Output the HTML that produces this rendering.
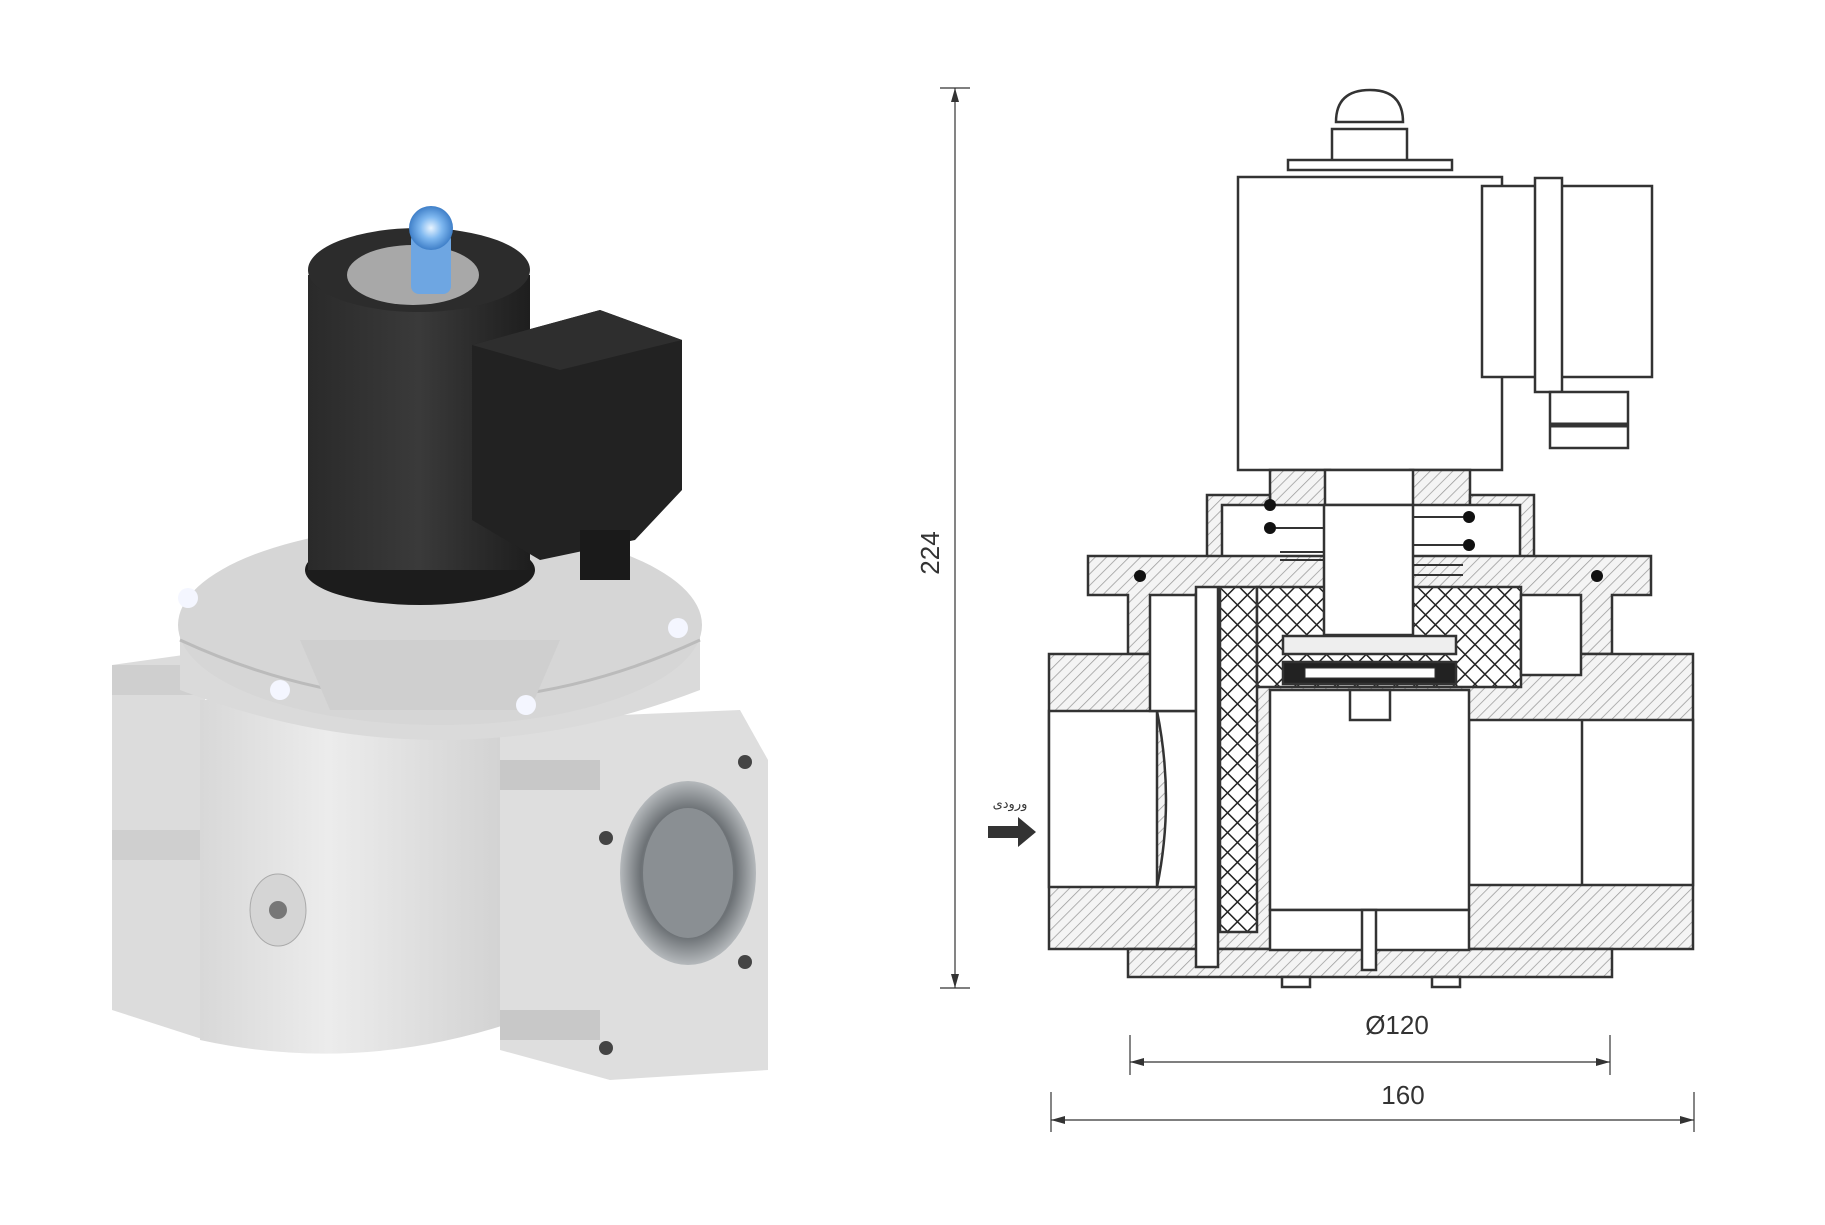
<!DOCTYPE html>
<html><head><meta charset="utf-8"><style>
html,body{margin:0;padding:0;background:#fff;}
svg{display:block;}
text{font-family:"Liberation Sans","DejaVu Sans",sans-serif;}
</style></head><body>
<svg width="1825" height="1225" viewBox="0 0 1825 1225" xmlns="http://www.w3.org/2000/svg">
<defs>
<pattern id="hatch" width="8" height="8" patternUnits="userSpaceOnUse" patternTransform="rotate(45)">
<rect width="8" height="8" fill="#f4f4f4"/><line x1="0" y1="0" x2="0" y2="8" stroke="#999" stroke-width="1.5"/></pattern>
<pattern id="mesh" width="14" height="14" patternUnits="userSpaceOnUse" patternTransform="rotate(45)">
<rect width="14" height="14" fill="#fff"/><path d="M0 0H14M0 0V14" stroke="#222" stroke-width="3"/></pattern>
<linearGradient id="blk" x1="0" x2="1"><stop offset="0" stop-color="#2a2a2a"/><stop offset="0.5" stop-color="#3a3a3a"/><stop offset="1" stop-color="#1e1e1e"/></linearGradient>
<linearGradient id="body" x1="0" x2="1"><stop offset="0" stop-color="#d8d8d8"/><stop offset="0.4" stop-color="#ececec"/><stop offset="1" stop-color="#d0d0d0"/></linearGradient>
<radialGradient id="blue"><stop offset="0" stop-color="#e8f4ff"/><stop offset="0.5" stop-color="#7fb8f0"/><stop offset="1" stop-color="#3f7fc8"/></radialGradient>
<radialGradient id="hole"><stop offset="0" stop-color="#9aa3a8"/><stop offset="0.7" stop-color="#6d7276"/><stop offset="1" stop-color="#b5b9bc"/></radialGradient>
</defs>

<!-- LEFT 3D render -->
<g>
<!-- body -->
<path d="M112 665 L205 652 L205 1040 L112 1010 Z" fill="#dcdcdc"/>
<path d="M112 665 h90 v30 h-90z M112 830 h90 v30 h-90z" fill="#cfcfcf"/>
<path d="M200 700 L520 700 L520 1020 Q360 1075 200 1040 Z" fill="url(#body)"/>
<path d="M500 720 L740 710 L768 760 L768 1070 L610 1080 L500 1050 Z" fill="#dedede"/>
<path d="M500 760 h100 v30 h-100z M500 1010 h100 v30 h-100z" fill="#c8c8c8"/>
<ellipse cx="688" cy="873" rx="68" ry="92" fill="url(#hole)"/>
<ellipse cx="688" cy="873" rx="45" ry="65" fill="#8a8f93"/>
<circle cx="745" cy="762" r="7" fill="#444"/><circle cx="745" cy="962" r="7" fill="#444"/>
<circle cx="606" cy="838" r="7" fill="#444"/><circle cx="606" cy="1048" r="7" fill="#444"/>
<ellipse cx="278" cy="910" rx="28" ry="36" fill="#d5d5d5" stroke="#aaa"/>
<circle cx="278" cy="910" r="9" fill="#777"/>
<!-- bonnet -->
<path d="M180 630 L180 690 Q440 790 700 690 L700 630 Z" fill="#dadada"/>
<ellipse cx="440" cy="625" rx="262" ry="100" fill="#d6d6d6"/>
<path d="M180 640 Q440 760 700 640" fill="none" stroke="#bbb" stroke-width="3"/>
<path d="M300 640 L560 640 L530 710 L330 710 Z" fill="#cfcfcf"/>
<circle cx="188" cy="598" r="10" fill="#f4f6ff"/><circle cx="678" cy="628" r="10" fill="#f4f6ff"/>
<circle cx="280" cy="690" r="10" fill="#f4f6ff"/><circle cx="526" cy="705" r="10" fill="#f4f6ff"/>
<!-- coil -->
<ellipse cx="420" cy="570" rx="115" ry="35" fill="#1c1c1c"/>
<rect x="308" y="275" width="222" height="295" fill="url(#blk)"/>
<ellipse cx="419" cy="270" rx="111" ry="42" fill="#2c2c2c"/>
<ellipse cx="413" cy="275" rx="66" ry="30" fill="#a8a8a8"/>
<path d="M472 345 L600 310 L682 340 L682 490 L635 540 L540 560 L472 520 Z" fill="#222"/>
<path d="M472 345 L600 310 L682 340 L560 370 Z" fill="#2e2e2e"/>
<rect x="580" y="530" width="50" height="50" fill="#1a1a1a"/>
<!-- blue light -->
<rect x="411" y="232" width="40" height="62" rx="8" fill="#6ea6e2"/>
<circle cx="431" cy="228" r="22" fill="url(#blue)"/>
</g>

<!-- RIGHT drawing -->
<g stroke="#333" stroke-width="2.5" fill="#fff">
<!-- dimension 224 -->
<line x1="955" y1="88" x2="955" y2="988" stroke-width="1.2"/>
<line x1="940" y1="88" x2="970" y2="88" stroke-width="1.2"/>
<line x1="940" y1="988" x2="970" y2="988" stroke-width="1.2"/>
<!-- top dome & nut -->
<path d="M1336 122 Q1336 90 1370 90 Q1403 90 1403 122 Z"/>
<rect x="1332" y="129" width="75" height="33"/>
<rect x="1288" y="160" width="164" height="10"/>
<!-- coil -->
<rect x="1238" y="177" width="264" height="293"/>
<rect x="1482" y="186" width="170" height="191"/>
<rect x="1535" y="178" width="27" height="214"/>
<rect x="1550" y="392" width="78" height="56"/>
<line x1="1550" y1="425" x2="1628" y2="425" stroke-width="5"/>
<!-- stem region -->
<rect x="1270" y="470" width="60" height="40" fill="url(#hatch)"/>
<rect x="1410" y="470" width="60" height="40" fill="url(#hatch)"/>
<rect x="1325" y="470" width="88" height="40"/>
<!-- bonnet -->
<path d="M1207 495 L1270 495 L1270 510 L1470 510 L1470 495 L1534 495 L1534 560 L1570 580 L1207 580 Z" fill="url(#hatch)"/>
<rect x="1222" y="505" width="298" height="75"/>
<!-- flange -->
<path d="M1088 556 L1651 556 L1651 595 L1612 595 L1612 654 L1128 654 L1128 595 L1088 595 Z" fill="url(#hatch)"/>
<!-- pipe -->
<rect x="1049" y="654" width="644" height="295" fill="url(#hatch)"/>
<path d="M1128 949 L1612 949 L1612 977 L1128 977 Z" fill="url(#hatch)"/>
<rect x="1049" y="711" width="108" height="176"/>
<path d="M1157 711 Q1175 800 1157 887 L1196 887 L1196 711 Z"/>
<rect x="1469" y="720" width="224" height="165"/>
<line x1="1582" y1="720" x2="1582" y2="885"/>
<path d="M1469 720 Q1420 800 1469 885"/>
<rect x="1150" y="595" width="46" height="116"/>
<!-- inner chamber -->
<rect x="1270" y="690" width="199" height="220"/>
<rect x="1196" y="587" width="22" height="380"/>
<rect x="1220" y="587" width="37" height="345" fill="url(#mesh)"/>
<rect x="1257" y="587" width="264" height="100" fill="url(#mesh)"/>
<rect x="1521" y="595" width="60" height="80"/>
<rect x="1324" y="505" width="89" height="130"/>
<rect x="1283" y="636" width="173" height="18" fill="#eee"/>
<rect x="1283" y="662" width="173" height="22" fill="#222"/>
<rect x="1305" y="668" width="130" height="10" fill="#fff" stroke-width="1"/>
<rect x="1350" y="690" width="40" height="30"/>
<rect x="1270" y="910" width="199" height="40"/>
<rect x="1362" y="910" width="14" height="60"/>
<!-- springs -->
<g fill="#111" stroke="none">
<circle cx="1270" cy="505" r="6"/><circle cx="1270" cy="528" r="6"/>
<circle cx="1469" cy="517" r="6"/><circle cx="1469" cy="545" r="6"/>
<circle cx="1140" cy="576" r="6"/><circle cx="1597" cy="576" r="6"/>
</g>
<g stroke-width="2" fill="none">
<path d="M1276 505 H1324 M1276 528 H1324 M1280 552 H1324 M1280 560 H1324"/>
<path d="M1413 517 H1463 M1413 545 H1463 M1413 565 H1463 M1413 575 H1463"/>
</g>
<!-- bottom lugs -->
<rect x="1282" y="977" width="28" height="10"/><rect x="1432" y="977" width="28" height="10"/>
<!-- dims bottom -->
<line x1="1130" y1="1062" x2="1610" y2="1062" stroke-width="1.2"/>
<line x1="1130" y1="1035" x2="1130" y2="1075" stroke-width="1.2"/>
<line x1="1610" y1="1035" x2="1610" y2="1075" stroke-width="1.2"/>
<line x1="1051" y1="1120" x2="1694" y2="1120" stroke-width="1.2"/>
<line x1="1051" y1="1092" x2="1051" y2="1132" stroke-width="1.2"/>
<line x1="1694" y1="1092" x2="1694" y2="1132" stroke-width="1.2"/>
</g>
<g fill="#333">
<path d="M1130 1062 l14 -4 v8z M1610 1062 l-14 -4 v8z M1051 1120 l14 -4 v8z M1694 1120 l-14 -4 v8z M955 88 l-4 14 h8z M955 988 l-4 -14 h8z"/>
<path d="M988 826 h30 v-9 l18 15 l-18 15 v-9 h-30z"/>
</g>
<text x="1397" y="1034" font-size="26" text-anchor="middle" fill="#333">Ø120</text>
<text x="1403" y="1104" font-size="26" text-anchor="middle" fill="#333">160</text>
<text x="930" y="553" font-size="26" text-anchor="middle" fill="#333" transform="rotate(-90 930 553)" dy="9">224</text>
<text x="1010" y="808" font-size="13" text-anchor="middle" fill="#333" font-family="'DejaVu Sans',sans-serif">ورودی</text>
</svg>
</body></html>
